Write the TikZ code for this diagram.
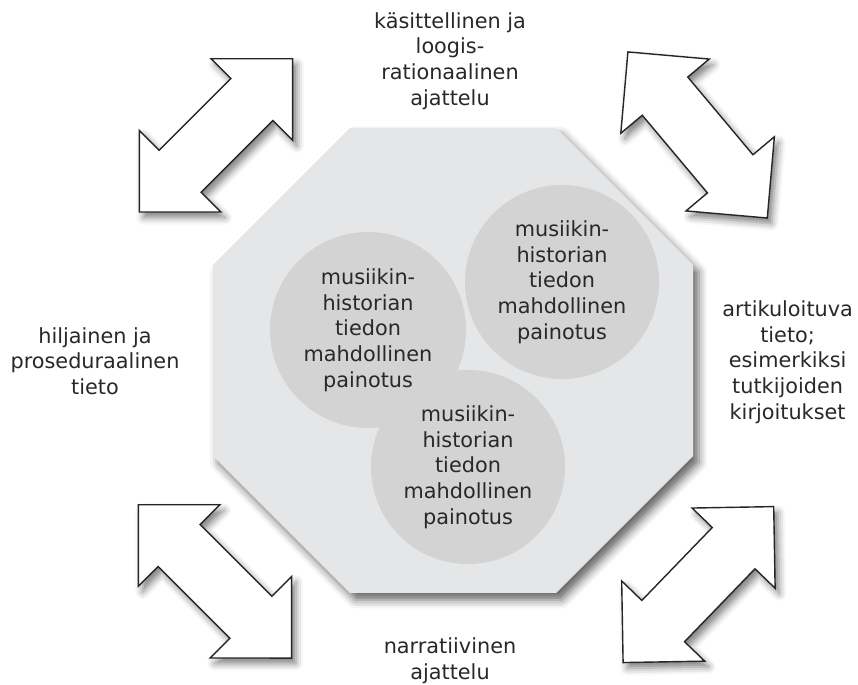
\documentclass[tikz,border=0pt]{standalone}
\usepackage{fontspec}
\setmainfont{DejaVu Sans}
\usetikzlibrary{shapes.arrows,shadows.blur}

\definecolor{octagray}{RGB}{229,230,231}
\definecolor{blobgray}{RGB}{211,211,211}
\definecolor{txtgray}{RGB}{40,40,40}
\newcommand{\diagfont}{\fontsize{14.8}{18.3}\selectfont}

\begin{document}
\begin{tikzpicture}[
    octa/.style     = {fill=octagray,
                       blur shadow={shadow xshift=4pt, shadow yshift=-5pt,
                                    shadow blur radius=6pt, shadow opacity=60}},
    blob/.style     = {circle, fill=blobgray, inner sep=0pt,
                       text=txtgray, align=center, font=\diagfont},
    % white two-headed block arrow with soft shadow
    dblarrow/.style = {double arrow, draw=black!85, line width=1pt, fill=white,
                       minimum height=5.42cm, minimum width=0pt,
                       inner xsep=0pt, inner ysep=0.725cm,
                       double arrow head extend=0.7cm,
                       blur shadow={shadow xshift=3pt, shadow yshift=-4pt,
                                    shadow blur radius=5pt, shadow opacity=50}},
    lbl/.style      = {text=txtgray, align=center, font=\diagfont, inner sep=0pt},
]

% page frame (858 x 685 px, 1 px = 0.025 cm)
\useasboundingbox (0,0) rectangle (21.45,17.125);

% ============================================================
%  OCTAGON
% ============================================================
\path[octa] (8.75,13.925) -- (13.9,13.925) -- (17.325,10.5) -- (17.325,5.725)
    -- (13.9,2.3) -- (8.75,2.3) -- (5.325,5.725) -- (5.325,10.5) -- cycle;

% ============================================================
%  CIRCLES
% ============================================================
\node[blob, minimum size=4.9cm]  (C1) at (9.2, 8.875)
    {musiikin-\\historian\\tiedon\\mahdollinen\\painotus};
\node[blob, minimum size=4.85cm] (C2) at (14.05, 10.075)
    {musiikin-\\historian\\tiedon\\mahdollinen\\painotus};
\node[blob, minimum size=4.85cm] (C3) at (11.7, 5.45)
    {musiikin-\\historian\\tiedon\\mahdollinen\\painotus};

% ============================================================
%  ARROWS
% ============================================================
\node[dblarrow, rotate=45]  (A1) at (5.4, 13.74)  {};
\node[dblarrow, rotate=130] (A2) at (17.44, 13.75) {};
\node[dblarrow, rotate=135] (A3) at (5.375, 2.59) {};
\node[dblarrow, rotate=46]  (A4) at (17.46, 2.51) {};

% ============================================================
%  LABELS
% ============================================================
\node[lbl] (top)    at (11.25, 15.6)
    {käsittellinen ja\\loogis-\\rationaalinen\\ajattelu};
\node[lbl] (left)   at (2.375, 8.1)
    {hiljainen ja\\proseduraalinen\\tieto};
\node[lbl] (right)  at (19.69, 8.075)
    {artikuloituva\\tieto;\\esimerkiksi\\tutkijoiden\\kirjoitukset};
\node[lbl] (bottom) at (11.25, 0.6)
    {narratiivinen\\ajattelu};

\end{tikzpicture}
\end{document}
